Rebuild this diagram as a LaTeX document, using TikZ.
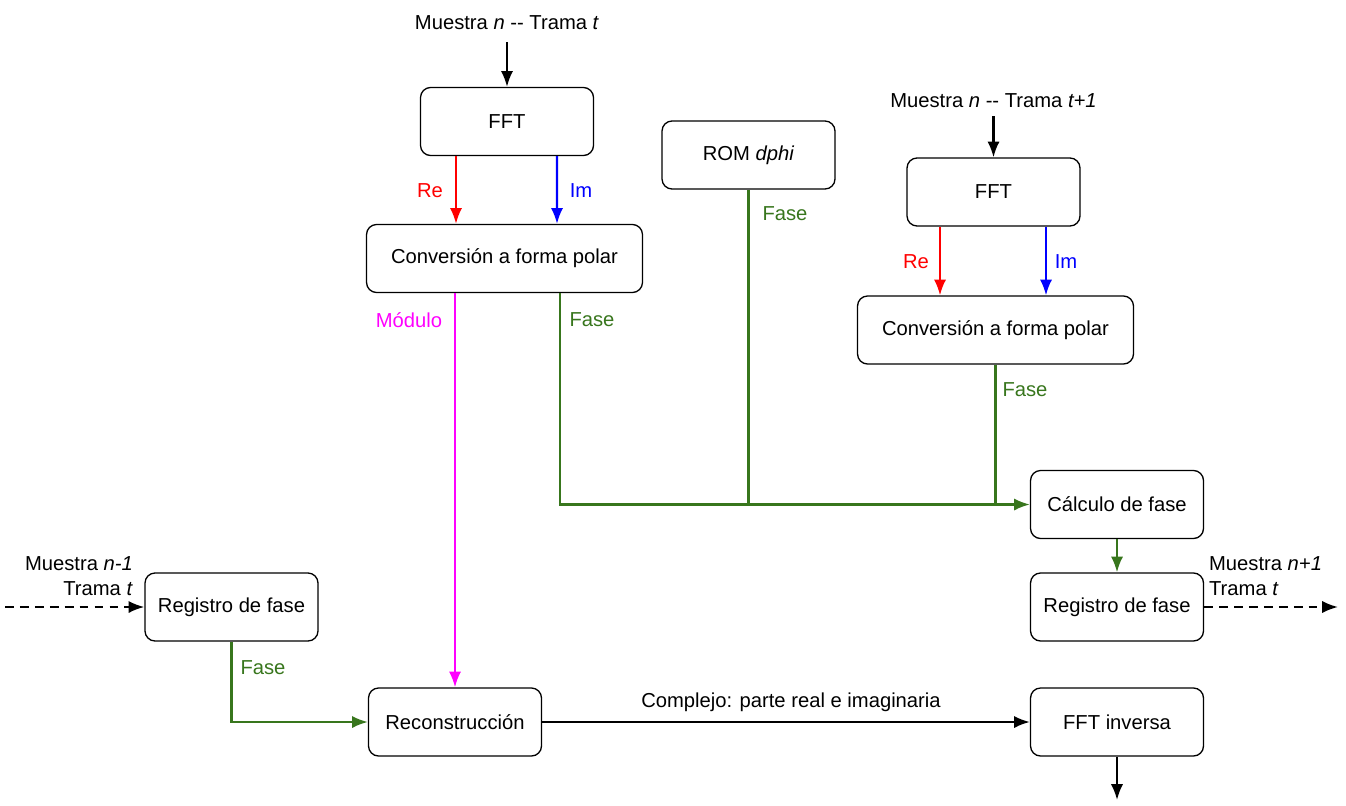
\documentclass[tikz,border=0pt]{standalone}
\usepackage{fontspec}
\setmainfont{Liberation Sans}
\usetikzlibrary{calc,arrows.meta}
\definecolor{fasegreen}{RGB}{56,118,29}
\definecolor{modmagenta}{RGB}{255,0,255}
\definecolor{rered}{RGB}{255,0,0}
\definecolor{imblue}{RGB}{0,0,255}
\begin{document}
\begin{tikzpicture}[x=0.02cm,y=-0.02cm,
    font=\fontsize{11.5}{14}\selectfont,
    bloque/.style={draw, line width=0.75pt, rounded corners=0.2cm, inner sep=0pt,
        minimum width=3.46cm, minimum height=1.36cm},
    ancho/.style={minimum width=5.52cm},
    flecha/.style={line width=1.3pt, -{Latex[length=9pt,width=7pt]}},
    discontinua/.style={dash pattern=on 5pt off 3.5pt},
    fase/.style={flecha, color=fasegreen},
    linea/.style={line width=1.3pt, color=fasegreen},
    etiqueta/.style={inner sep=1pt}]
%
\useasboundingbox (0,0) rectangle (1346,805);
%
% bloques
\node[bloque] (fft1) at (507,121.5) {FFT};
\node[bloque] (rom) at (748.5,155) {ROM \textit{dphi}};
\node[bloque] (fft2) at (993.5,192) {FFT};
\node[bloque,ancho] (conv1) at (504.5,258.5) {Conversión a forma polar};
\node[bloque,ancho] (conv2) at (995.5,330) {Conversión a forma polar};
\node[bloque] (calc) at (1117,504.5) {Cálculo de fase};
\node[bloque] (regr) at (1117,607) {Registro de fase};
\node[bloque] (regl) at (231.5,607) {Registro de fase};
\node[bloque] (rec) at (455,722) {Reconstrucción};
\node[bloque] (ifft) at (1117,722) {FFT inversa};
%
% entradas y salidas
\node[etiqueta] (in1) at (507,23) {Muestra \textit{n} -{}- Trama \textit{t}};
\node[etiqueta] (in2) at (993.5,101) {Muestra \textit{n} -{}- Trama \textit{t+1}};
\node[etiqueta,align=right,anchor=east] (inl) at (135,576) {Muestra \textit{n-1}\\Trama \textit{t}};
\node[etiqueta,align=left,anchor=west] (outr) at (1207,576) {Muestra \textit{n+1}\\Trama \textit{t}};
\coordinate (in1b) at (507,42);
\coordinate (in2b) at (993.5,116);
\coordinate (inla) at (5,607);
\coordinate (outrb) at (1338,607);
\coordinate (salida) at (1117,800);
%
\draw[flecha] (in1b) -- (fft1.north);
\draw[flecha] (in2b) -- (fft2.north);
\draw[flecha,discontinua] (inla) -- (regl.west);
\draw[flecha,discontinua] (regr.east) -- (outrb);
\draw[flecha] (ifft.south) -- (salida);
%
% FFT -> conversion
\draw[flecha,rered] ($(fft1.south)+(-51,0)$) -- ($(conv1.north)+(-48.5,0)$);
\draw[flecha,imblue] ($(fft1.south)+(50,0)$) -- ($(conv1.north)+(52.5,0)$);
\draw[flecha,rered] ($(fft2.south)+(-53.5,0)$) -- ($(conv2.north)+(-55.5,0)$);
\draw[flecha,imblue] ($(fft2.south)+(52.5,0)$) -- ($(conv2.north)+(50.5,0)$);
\node[etiqueta,rered] (re1) at (430,191) {Re};
\node[etiqueta,imblue] (im1) at (581,191) {Im};
\node[etiqueta,rered] (re2) at (916,262) {Re};
\node[etiqueta,imblue] (im2) at (1066,262) {Im};
%
% modulo
\draw[flecha,modmagenta] ($(conv1.south)+(-49.5,0)$) -- (rec.north);
\node[etiqueta,modmagenta] (modlab) at (409,320) {Módulo};
%
% fases hacia el calculo
\draw[fase] ($(conv1.south)+(55.5,0)$) |- (calc.west);
\draw[linea] (rom.south) -- (rom.south |- calc.west);
\draw[linea] (conv2.south) -- (conv2.south |- calc.west);
\node[etiqueta,fasegreen] (f1) at (592,320) {Fase};
\node[etiqueta,fasegreen] (f2) at (785,214) {Fase};
\node[etiqueta,fasegreen] (f3) at (1025,390) {Fase};
%
\draw[fase] (calc.south) -- (regr.north);
\draw[fase] (regl.south) |- (rec.west);
\node[etiqueta,fasegreen] (f4) at (263,668) {Fase};
%
% reconstruccion -> FFT inversa
\draw[flecha] (rec.east) -- (ifft.west);
\node[etiqueta] (comp) at (791,702) {Complejo: parte real e imaginaria};
%
\end{tikzpicture}
\end{document}
